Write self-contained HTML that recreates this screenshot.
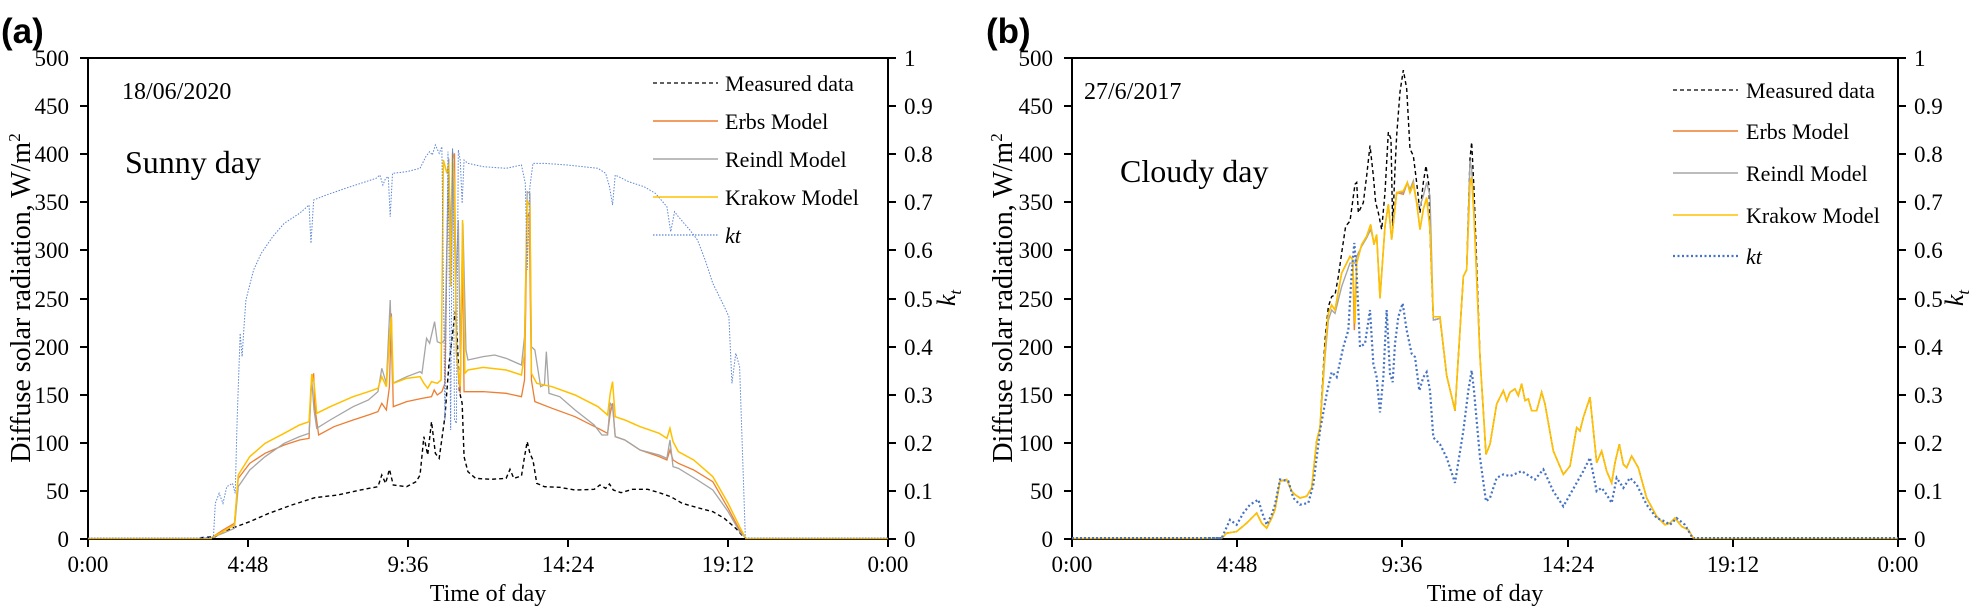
<!DOCTYPE html>
<html><head><meta charset="utf-8"><style>
html,body{margin:0;padding:0;background:#fff;}
svg{display:block;}
text{font-family:"Liberation Serif",serif;fill:#000;}
</style></head><body>
<svg width="1975" height="608" viewBox="0 0 1975 608" xmlns="http://www.w3.org/2000/svg">
<!-- ===== Panel A ===== -->
<text x="1" y="43" style="font-family:'Liberation Sans',sans-serif;font-weight:bold;font-size:35px">(a)</text>
<g font-size="23">
<text x="69" y="66" text-anchor="end">500</text>
<text x="69" y="114" text-anchor="end">450</text>
<text x="69" y="162" text-anchor="end">400</text>
<text x="69" y="210" text-anchor="end">350</text>
<text x="69" y="258" text-anchor="end">300</text>
<text x="69" y="307" text-anchor="end">250</text>
<text x="69" y="355" text-anchor="end">200</text>
<text x="69" y="403" text-anchor="end">150</text>
<text x="69" y="451" text-anchor="end">100</text>
<text x="69" y="499" text-anchor="end">50</text>
<text x="69" y="547" text-anchor="end">0</text>
<text x="904" y="66">1</text>
<text x="904" y="114">0.9</text>
<text x="904" y="162">0.8</text>
<text x="904" y="210">0.7</text>
<text x="904" y="258">0.6</text>
<text x="904" y="307">0.5</text>
<text x="904" y="355">0.4</text>
<text x="904" y="403">0.3</text>
<text x="904" y="451">0.2</text>
<text x="904" y="499">0.1</text>
<text x="904" y="547">0</text>
<text x="88" y="572" text-anchor="middle">0:00</text>
<text x="248" y="572" text-anchor="middle">4:48</text>
<text x="408" y="572" text-anchor="middle">9:36</text>
<text x="568" y="572" text-anchor="middle">14:24</text>
<text x="728" y="572" text-anchor="middle">19:12</text>
<text x="888" y="572" text-anchor="middle">0:00</text>
</g>
<text x="488" y="601" text-anchor="middle" font-size="24">Time of day</text>
<text transform="translate(30,298) rotate(-90)" text-anchor="middle" font-size="28">Diffuse solar radiation, W/m<tspan font-size="17" dy="-10">2</tspan></text>
<text transform="translate(955,298) rotate(-90)" text-anchor="middle" font-size="26" font-style="italic">k<tspan font-size="17" dy="6">t</tspan></text>
<text x="122" y="99" font-size="24">18/06/2020</text>
<text x="125" y="173" font-size="32">Sunny day</text>

<g stroke="#000" stroke-width="2" fill="none">
<rect x="88" y="58" width="800" height="481"/>
<path d="M80 58H88M80 106H88M80 154H88M80 202H88M80 250H88M80 299H88M80 347H88M80 395H88M80 443H88M80 491H88M80 539H88"/>
<path d="M888 58H896M888 106H896M888 154H896M888 202H896M888 250H896M888 299H896M888 347H896M888 395H896M888 443H896M888 491H896M888 539H896"/>
<path d="M88 539V547M248 539V547M408 539V547M568 539V547M728 539V547M888 539V547"/>
</g>
<path d="M88 538.5H212M745 538.5H888" stroke="#F4B400" stroke-width="1.5"/>
<path d="M88 538H212M745 538H888" stroke="#6d8fd6" stroke-width="1" stroke-dasharray="1.5 1.5"/>

<g transform="translate(200,120) scale(0.38270,0.33333)" fill="none">
<polyline vector-effect="non-scaling-stroke" stroke="#000" stroke-width="1.4" stroke-dasharray="4 3" points="0,1253 40,1250 60,1235 90,1222 130,1205 180,1180 240,1155 300,1133 360,1125 420,1110 465,1100 475,1065 485,1090 495,1048 505,1095 540,1100 565,1085 575,1065 585,950 595,1005 605,905 615,1000 625,1015 640,890 650,740 660,640 667,575 672,650 678,815 685,850 690,1010 700,1055 720,1075 760,1078 800,1075 810,1048 820,1075 840,1068 848,1010 855,965 862,1000 870,1020 880,1090 900,1100 940,1102 980,1110 1030,1108 1045,1095 1060,1105 1070,1092 1080,1110 1100,1118 1130,1108 1170,1108 1200,1118 1230,1130 1260,1150 1300,1163 1340,1175 1370,1195 1400,1225 1420,1250 1425,1253"/>
<polyline vector-effect="non-scaling-stroke" stroke="#ED7D31" stroke-width="1.3" points="30,1253 60,1230 90,1210 100,1075 130,1030 170,1000 220,975 260,960 285,955 290,800 297,760 300,860 310,945 350,920 400,900 440,885 465,875 475,850 487,870 495,800 500,580 505,860 540,845 580,835 605,830 612,810 620,825 632,815 640,790 645,400 650,140 655,490 660,120 665,100 670,700 680,820 686,400 690,815 700,815 740,815 800,820 840,830 848,780 855,290 860,280 866,780 875,845 920,865 980,890 1040,925 1065,940 1072,880 1078,850 1085,950 1110,960 1150,990 1200,1010 1220,1020 1228,990 1236,1020 1250,1030 1290,1050 1340,1085 1380,1165 1410,1230 1425,1253"/>
<polyline vector-effect="non-scaling-stroke" stroke="#A5A5A5" stroke-width="1.3" points="30,1253 60,1240 90,1225 100,1100 130,1050 170,1010 220,970 260,950 285,940 292,780 298,870 305,925 340,900 400,860 440,840 465,815 475,745 487,790 497,540 503,790 540,770 575,755 580,760 592,655 600,670 613,605 620,665 630,670 640,660 650,115 655,360 660,95 668,500 675,300 680,700 687,310 695,690 700,720 740,710 770,705 800,715 840,735 848,650 855,215 862,220 866,680 875,690 890,800 900,795 905,695 912,820 940,830 980,870 1030,915 1050,945 1065,945 1072,850 1078,860 1085,950 1110,960 1150,990 1200,1005 1220,1015 1228,960 1236,1040 1250,1045 1300,1080 1340,1110 1380,1175 1410,1235 1425,1253"/>
<polyline vector-effect="non-scaling-stroke" stroke="#FFC000" stroke-width="1.5" points="30,1253 60,1235 90,1215 100,1065 130,1010 170,970 220,940 260,915 285,905 292,762 298,790 305,880 340,860 400,830 440,815 465,805 475,770 487,800 495,660 500,590 505,790 540,775 575,770 585,790 595,805 605,785 620,790 630,780 636,120 645,160 650,130 655,500 660,100 665,200 670,700 680,800 686,300 692,760 700,750 740,742 800,750 840,765 848,700 855,240 862,260 866,760 880,790 920,800 980,825 1040,860 1065,885 1072,820 1078,785 1085,890 1110,900 1150,920 1200,940 1220,955 1228,925 1236,965 1250,995 1290,1020 1340,1070 1380,1150 1410,1220 1425,1253"/>
<polyline vector-effect="non-scaling-stroke" stroke="#5b85d8" stroke-width="1" stroke-dasharray="1.5 1.5" points="0,1253 35,1253 40,1150 50,1120 60,1150 70,1100 85,1090 92,1120 97,900 105,640 110,710 115,620 120,540 140,450 160,400 190,350 220,310 260,280 285,255 290,370 297,240 330,225 380,205 420,190 460,175 470,165 478,195 485,175 492,170 497,290 503,160 540,155 575,145 590,110 600,95 607,105 615,75 625,100 632,80 640,900 648,95 655,930 660,85 665,900 670,910 675,90 680,120 685,250 690,120 700,130 740,140 800,145 840,135 850,190 855,450 862,200 870,130 900,130 960,135 1040,145 1060,160 1070,200 1078,255 1085,165 1120,185 1160,200 1190,220 1220,260 1230,335 1240,275 1250,290 1280,330 1300,360 1320,420 1340,490 1370,560 1382,590 1390,790 1400,700 1410,740 1425,1253"/>
</g>
<!-- legend A -->
<path d="M653 83H718" stroke="#000" stroke-width="1.3" stroke-dasharray="4 3"/>
<path d="M653 121H718" stroke="#ED7D31" stroke-width="1.5"/>
<path d="M653 159H718" stroke="#A5A5A5" stroke-width="1.5"/>
<path d="M653 197H718" stroke="#FFC000" stroke-width="1.5"/>
<path d="M653 235H718" stroke="#5b85d8" stroke-width="1.2" stroke-dasharray="1.5 1.5"/>
<g font-size="22">
<text x="725" y="91">Measured data</text>
<text x="725" y="129">Erbs Model</text>
<text x="725" y="167">Reindl Model</text>
<text x="725" y="205">Krakow Model</text>
<text x="725" y="243" font-style="italic">kt</text>
</g>

<!-- ===== Panel B ===== -->
<text x="986" y="43" style="font-family:'Liberation Sans',sans-serif;font-weight:bold;font-size:35px">(b)</text>
<g font-size="23">
<text x="1053" y="66" text-anchor="end">500</text>
<text x="1053" y="114" text-anchor="end">450</text>
<text x="1053" y="162" text-anchor="end">400</text>
<text x="1053" y="210" text-anchor="end">350</text>
<text x="1053" y="258" text-anchor="end">300</text>
<text x="1053" y="307" text-anchor="end">250</text>
<text x="1053" y="355" text-anchor="end">200</text>
<text x="1053" y="403" text-anchor="end">150</text>
<text x="1053" y="451" text-anchor="end">100</text>
<text x="1053" y="499" text-anchor="end">50</text>
<text x="1053" y="547" text-anchor="end">0</text>
<text x="1914" y="66">1</text>
<text x="1914" y="114">0.9</text>
<text x="1914" y="162">0.8</text>
<text x="1914" y="210">0.7</text>
<text x="1914" y="258">0.6</text>
<text x="1914" y="307">0.5</text>
<text x="1914" y="355">0.4</text>
<text x="1914" y="403">0.3</text>
<text x="1914" y="451">0.2</text>
<text x="1914" y="499">0.1</text>
<text x="1914" y="547">0</text>
<text x="1072" y="572" text-anchor="middle">0:00</text>
<text x="1237" y="572" text-anchor="middle">4:48</text>
<text x="1402" y="572" text-anchor="middle">9:36</text>
<text x="1568" y="572" text-anchor="middle">14:24</text>
<text x="1733" y="572" text-anchor="middle">19:12</text>
<text x="1898" y="572" text-anchor="middle">0:00</text>
</g>
<text x="1485" y="601" text-anchor="middle" font-size="24">Time of day</text>
<text transform="translate(1012,298) rotate(-90)" text-anchor="middle" font-size="28">Diffuse solar radiation, W/m<tspan font-size="17" dy="-10">2</tspan></text>
<text transform="translate(1963,298) rotate(-90)" text-anchor="middle" font-size="26" font-style="italic">k<tspan font-size="17" dy="6">t</tspan></text>
<text x="1084" y="99" font-size="24">27/6/2017</text>
<text x="1120" y="182" font-size="32">Cloudy day</text>

<g stroke="#000" stroke-width="2" fill="none">
<rect x="1072" y="58" width="826" height="481"/>
<path d="M1064 58H1072M1064 106H1072M1064 154H1072M1064 202H1072M1064 250H1072M1064 299H1072M1064 347H1072M1064 395H1072M1064 443H1072M1064 491H1072M1064 539H1072"/>
<path d="M1898 58H1906M1898 106H1906M1898 154H1906M1898 202H1906M1898 250H1906M1898 299H1906M1898 347H1906M1898 395H1906M1898 443H1906M1898 491H1906M1898 539H1906"/>
<path d="M1072 539V547M1237 539V547M1402 539V547M1568 539V547M1733 539V547M1898 539V547"/>
</g>
<path d="M1072 538.5H1222M1693 538.5H1898" stroke="#F4B400" stroke-width="1.5"/>
<path d="M1072 538H1222M1693 538H1898" stroke="#4472C4" stroke-width="2" stroke-dasharray="2 2"/>

<g transform="translate(1200,55) scale(0.33333,0.33557)" fill="none">
<polyline vector-effect="non-scaling-stroke" stroke="#000" stroke-width="1.4" stroke-dasharray="4 3" points="65,1440 80,1425 110,1420 140,1395 170,1365 185,1395 200,1410 215,1380 225,1355 240,1270 260,1265 275,1300 285,1310 300,1320 320,1315 335,1290 350,1150 360,1110 375,850 385,750 395,720 405,715 415,660 425,590 437,510 450,495 465,385 470,380 475,470 490,440 500,360 510,270 520,360 527,440 535,470 545,520 555,410 565,230 573,250 578,510 585,340 590,240 600,110 610,45 620,100 630,280 640,300 650,380 660,470 670,380 678,330 687,390 690,530 700,790 720,785 740,955 765,1060 790,660 800,640 810,310 815,260 822,400 840,900 858,1190 870,1160 890,1040 910,1000 920,1030 930,1005 945,995 955,1015 965,980 975,1030 985,1025 995,1060 1010,1060 1025,1005 1035,1040 1060,1180 1090,1250 1110,1225 1130,1110 1140,1120 1150,1080 1170,1020 1190,1215 1205,1180 1220,1240 1235,1275 1245,1215 1258,1160 1270,1220 1280,1230 1295,1195 1315,1230 1340,1320 1370,1375 1395,1400 1410,1395 1425,1380 1445,1405 1465,1415 1480,1440"/>
<polyline vector-effect="non-scaling-stroke" stroke="#ED7D31" stroke-width="1.4" points="65,1440 80,1425 110,1420 140,1395 170,1365 185,1395 200,1410 215,1380 225,1355 240,1270 260,1265 275,1300 285,1310 300,1320 320,1315 335,1290 350,1150 360,1110 375,880 385,770 395,745 405,760 425,650 450,600 458,610 463,820 470,620 485,565 500,540 512,505 522,565 530,535 540,725 555,510 565,445 575,550 590,410 610,415 622,380 630,410 640,385 650,440 660,520 670,460 680,425 690,520 700,780 720,780 740,955 765,1060 790,660 800,640 810,380 815,365 822,480 840,900 858,1190 870,1160 890,1040 910,1000 920,1030 930,1005 945,995 955,1015 965,980 975,1030 985,1025 995,1060 1010,1060 1025,1005 1035,1040 1060,1180 1090,1250 1110,1225 1130,1110 1140,1120 1150,1080 1170,1020 1190,1215 1205,1180 1220,1240 1235,1275 1245,1215 1258,1160 1270,1220 1280,1230 1295,1195 1315,1230 1340,1320 1370,1375 1395,1400 1410,1395 1425,1380 1445,1405 1465,1415 1480,1440"/>
<polyline vector-effect="non-scaling-stroke" stroke="#A5A5A5" stroke-width="1.4" points="350,1150 360,1110 375,900 385,790 395,760 405,770 425,690 450,620 465,620 470,600 485,570 500,545 512,520 522,560 530,540 540,720 555,510 565,445 575,550 590,410 610,410 622,380 630,400 640,375 650,440 660,450 670,420 680,380 690,420 700,790 720,785 740,955 765,1060 790,660 800,640 810,315 815,340 822,460 840,900"/>
<polyline vector-effect="non-scaling-stroke" stroke="#FFC000" stroke-width="1.6" points="65,1440 80,1425 110,1420 140,1395 170,1365 185,1395 200,1410 215,1380 225,1355 240,1270 260,1265 275,1300 285,1310 300,1320 320,1315 335,1290 350,1150 360,1110 375,880 385,770 395,745 405,760 425,650 450,600 458,610 465,800 470,620 485,565 500,540 512,505 522,565 530,535 540,725 555,510 565,445 575,550 590,410 610,405 622,380 630,410 640,385 650,440 660,520 670,460 680,425 690,520 700,780 720,780 740,955 765,1060 790,660 800,640 810,380 815,365 822,480 840,900 858,1190 870,1160 890,1040 910,1000 920,1030 930,1005 945,995 955,1015 965,980 975,1030 985,1025 995,1060 1010,1060 1025,1005 1035,1040 1060,1180 1090,1250 1110,1225 1130,1110 1140,1120 1150,1080 1170,1020 1190,1215 1205,1180 1220,1240 1235,1275 1245,1215 1258,1160 1270,1220 1280,1230 1295,1195 1315,1230 1340,1320 1370,1375 1395,1400 1410,1395 1425,1380 1445,1405 1465,1415 1480,1440"/>
<polyline vector-effect="non-scaling-stroke" stroke="#4472C4" stroke-width="2.2" stroke-dasharray="2 2.5" points="0,1440 65,1440 90,1385 110,1400 130,1365 150,1340 175,1325 185,1360 200,1400 215,1370 225,1340 240,1265 265,1270 280,1320 300,1340 325,1335 340,1280 360,1120 380,1010 395,945 410,960 430,870 445,820 455,650 463,560 470,650 480,870 495,860 510,760 520,920 530,960 540,1065 550,960 560,760 570,950 578,975 585,860 595,780 608,740 620,820 635,890 645,900 658,1000 670,960 680,945 690,1000 700,1140 720,1160 740,1200 765,1275 790,1120 805,1000 815,940 822,1000 840,1200 858,1330 870,1320 890,1260 910,1250 930,1255 965,1240 1005,1265 1030,1235 1060,1300 1090,1345 1110,1310 1130,1275 1150,1240 1170,1200 1190,1300 1205,1290 1220,1310 1235,1335 1250,1260 1270,1290 1290,1260 1310,1280 1340,1340 1370,1380 1395,1390 1410,1400 1430,1380 1455,1400 1478,1440"/>
</g>
<!-- legend B -->
<path d="M1673 90H1738" stroke="#000" stroke-width="1.3" stroke-dasharray="4 3"/>
<path d="M1673 131H1738" stroke="#ED7D31" stroke-width="1.5"/>
<path d="M1673 173H1738" stroke="#A5A5A5" stroke-width="1.5"/>
<path d="M1673 215H1738" stroke="#FFC000" stroke-width="1.5"/>
<path d="M1673 256H1738" stroke="#4472C4" stroke-width="2.2" stroke-dasharray="2 2.5"/>
<g font-size="22">
<text x="1746" y="98">Measured data</text>
<text x="1746" y="139">Erbs Model</text>
<text x="1746" y="181">Reindl Model</text>
<text x="1746" y="223">Krakow Model</text>
<text x="1746" y="264" font-style="italic">kt</text>
</g>
</svg>
</body></html>
